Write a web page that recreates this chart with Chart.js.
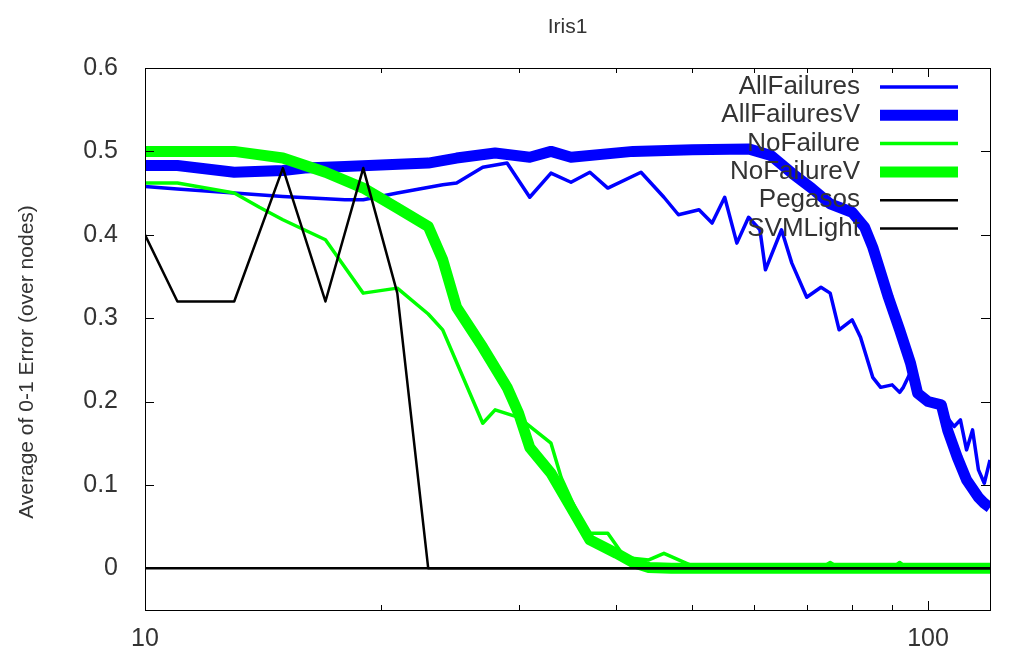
<!DOCTYPE html>
<html>
<head>
<meta charset="utf-8">
<script src="https://cdn.jsdelivr.net/npm/chart.js@4"></script>
<style>
  body { margin: 0; background: #fff; }
</style>
</head>
<body>
<canvas id="irisChart" width="1025" height="649"></canvas>
<script>
var irisChart = document.getElementById('irisChart');

// x = iterations (log axis), y = average 0-1 error
const afX = [10,11,13,15,18,19,21,24,25,27,29,31,33,35,37,39,43,46,48,51,53,55,57,59,61,62,65,67,70,73,75,77,80,82,85,87,90,92,93,95,97,100,104,108,110,112,114,116,118,120];
const afY = [0.458,0.455,0.45,0.446,0.442,0.442,0.45,0.46,0.462,0.481,0.486,0.445,0.474,0.463,0.475,0.456,0.475,0.445,0.424,0.43,0.414,0.445,0.39,0.421,0.406,0.358,0.406,0.366,0.325,0.337,0.33,0.286,0.298,0.277,0.229,0.217,0.22,0.211,0.217,0.235,0.21,0.2,0.19,0.17,0.178,0.142,0.166,0.118,0.102,0.13];

const avX = [10,11,13,15,16,18,23,25,28,31,33,35,42,50,59,63,67,71,75,80,83,85,87,89,92,95,97,100,104,106,109,112,116,118,120];
const avY = [0.483,0.483,0.475,0.477,0.48,0.482,0.486,0.492,0.498,0.493,0.5,0.493,0.5,0.502,0.503,0.495,0.474,0.456,0.437,0.427,0.409,0.385,0.355,0.325,0.286,0.246,0.21,0.2,0.196,0.165,0.133,0.106,0.085,0.078,0.073];

const nfX = [10,11,13,14,15,17,19,21,23,24,27,28,30,33,34,36,37,39,41,44,46,50,53,73,75,77,90,92,94,120];
const nfY = [0.462,0.462,0.45,0.433,0.418,0.394,0.33,0.336,0.305,0.286,0.174,0.19,0.181,0.15,0.109,0.058,0.042,0.042,0.013,0.01,0.018,0.003,0,0,0.007,0,0,0.007,0,0];

const nvX = [10,13,15,17,19,21,23,24,25,27,29,30,31,33,35,37,40,42,44,47,120];
const nvY = [0.5,0.5,0.492,0.475,0.456,0.432,0.41,0.37,0.313,0.265,0.217,0.186,0.145,0.114,0.073,0.034,0.018,0.007,0.001,0,0];

const pgX = [10,11,13,15,17,19,21,23,120];
const pgY = [0.4,0.32,0.32,0.48,0.32,0.48,0.33,0,0];

const svX = [10,120];
const svY = [0,0];

const seriesNames = ['AllFailures','AllFailuresV','NoFailure','NoFailureV','Pegasos','SVMLight'];
const xTicks = [10,20,30,40,50,60,70,80,90,100];
const xLabels = [10,100];
const yTicks = [0,0.1,0.2,0.3,0.4,0.5,0.6];
const chartTitle = 'Iris1';
const yTitle = 'Average of 0-1 Error (over nodes)';

const textColor = '#333333';
const fontName = '"Liberation Sans", Arial, sans-serif';

function pts(xs, ys) {
    return xs.map((x, i) => ({x: x, y: ys[i]}));
}

// gnuplot-like box, inward ticks, titles and key
const gnuplotBox = {
    id: 'gnuplotBox',
    afterDraw(chart) {
        const ctx = chart.ctx;
        const a = chart.chartArea;
        const xs = chart.scales.x;
        const ys = chart.scales.y;
        ctx.save();
        ctx.strokeStyle = '#000';
        ctx.lineWidth = 1;
        ctx.strokeRect(Math.round(a.left) + 0.5, Math.round(a.top) + 0.5,
            Math.round(a.right - a.left), Math.round(a.bottom - a.top));
        ctx.beginPath();
        xTicks.forEach(v => {
            const px = Math.round(xs.getPixelForValue(v)) + 0.5;
            const len = xLabels.includes(v) ? 9 : 5;
            ctx.moveTo(px, a.bottom); ctx.lineTo(px, a.bottom - len);
            ctx.moveTo(px, a.top); ctx.lineTo(px, a.top + len);
        });
        yTicks.forEach(v => {
            const py = Math.round(ys.getPixelForValue(v)) + 0.5;
            ctx.moveTo(a.left, py); ctx.lineTo(a.left + 9, py);
            ctx.moveTo(a.right, py); ctx.lineTo(a.right - 9, py);
        });
        ctx.stroke();

        ctx.fillStyle = textColor;
        ctx.textAlign = 'center';
        ctx.textBaseline = 'middle';
        ctx.font = '21px ' + fontName;
        ctx.fillText(chartTitle, (a.left + a.right) / 2, 27);

        ctx.save();
        ctx.translate(27, 362);
        ctx.rotate(-Math.PI / 2);
        ctx.fillText(yTitle, 0, 0);
        ctx.restore();

        // key
        ctx.font = '26px ' + fontName;
        ctx.textAlign = 'right';
        chart.data.datasets.forEach((ds, i) => {
            const y = 87 + i * 28.3;
            ctx.fillStyle = textColor;
            ctx.fillText(ds.label, 860, y);
            ctx.beginPath();
            ctx.strokeStyle = ds.borderColor;
            ctx.lineWidth = ds.borderWidth;
            ctx.moveTo(880, y);
            ctx.lineTo(958, y);
            ctx.stroke();
        });
        ctx.restore();
    }
};

var myChart = new Chart(irisChart, {
    type: 'line',
    data: {
        datasets: [
            {label: seriesNames[0], data: pts(afX, afY), borderColor: '#0000ff', borderWidth: 3.5, order: 6},
            {label: seriesNames[1], data: pts(avX, avY), borderColor: '#0000ff', borderWidth: 11, order: 5},
            {label: seriesNames[2], data: pts(nfX, nfY), borderColor: '#00ff00', borderWidth: 3.5, order: 4},
            {label: seriesNames[3], data: pts(nvX, nvY), borderColor: '#00ff00', borderWidth: 11, order: 3},
            {label: seriesNames[4], data: pts(pgX, pgY), borderColor: '#000000', borderWidth: 2.5, order: 2},
            {label: seriesNames[5], data: pts(svX, svY), borderColor: '#000000', borderWidth: 2.5, order: 1}
        ]
    },
    options: {
        responsive: false,
        animation: false,
        devicePixelRatio: 1,
        layout: {padding: {left: 0, right: 35, top: 68, bottom: 0}},
        elements: {
            point: {radius: 0},
            line: {tension: 0, fill: false, borderJoinStyle: 'round'}
        },
        plugins: {
            legend: {display: false},
            tooltip: {enabled: false},
            title: {display: false}
        },
        scales: {
            x: {
                type: 'logarithmic',
                min: 10,
                max: 120,
                grid: {display: false},
                border: {display: false},
                afterBuildTicks: s => { s.ticks = xTicks.map(v => ({value: v})); },
                afterFit: s => { s.height = 39; },
                ticks: {
                    autoSkip: false,
                    maxRotation: 0,
                    padding: 6,
                    color: textColor,
                    font: {family: fontName, size: 25},
                    callback: v => xLabels.includes(v) ? String(v) : ''
                }
            },
            y: {
                min: -0.05,
                max: 0.6,
                grid: {display: false},
                border: {display: false},
                afterBuildTicks: s => { s.ticks = yTicks.map(v => ({value: v})); },
                afterFit: s => { s.width = 145; },
                ticks: {
                    padding: 19,
                    color: textColor,
                    font: {family: fontName, size: 25},
                    callback: v => v === 0 ? '0' : v.toFixed(1)
                }
            }
        }
    },
    plugins: [gnuplotBox]
});
</script>
</body>
</html>
